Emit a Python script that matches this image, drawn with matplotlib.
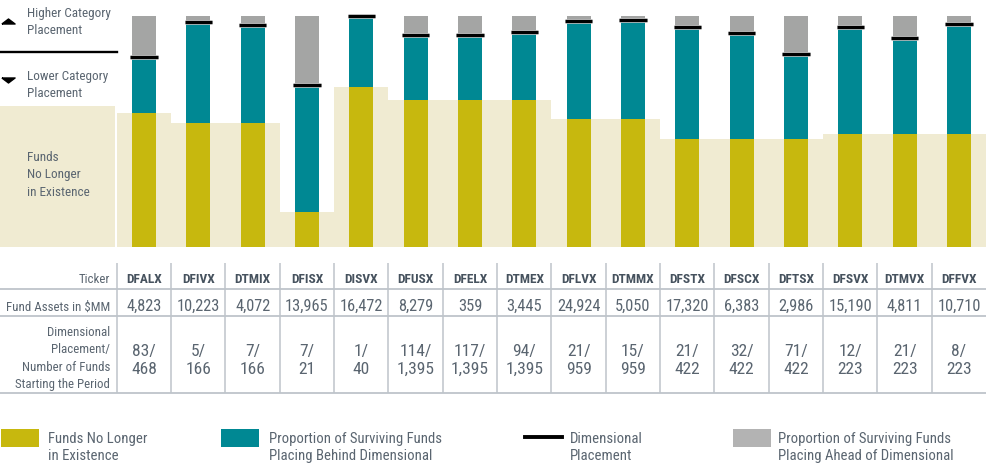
import numpy as np
import matplotlib
matplotlib.use("Agg")
import matplotlib.pyplot as plt
import matplotlib.patheffects as pe
from matplotlib import font_manager
from matplotlib.patches import Rectangle
from matplotlib.lines import Line2D
from matplotlib.transforms import blended_transform_factory

# data
tickers = ["DFALX", "DFIVX", "DTMIX", "DFISX", "DISVX", "DFUSX", "DFELX", "DTMEX",
           "DFLVX", "DTMMX", "DFSTX", "DFSCX", "DFTSX", "DFSVX", "DTMVX", "DFFVX"]
assets = ["4,823", "10,223", "4,072", "13,965", "16,472", "8,279", "359", "3,445",
          "24,924", "5,050", "17,320", "6,383", "2,986", "15,190", "4,811", "10,710"]
rank = [83, 5, 7, 7, 1, 114, 117, 94, 21, 15, 21, 32, 71, 12, 21, 8]
n_funds = [468, 166, 166, 21, 40, 1395, 1395, 1395, 959, 959, 422, 422, 422, 223, 223, 223]
# percent of funds starting the period
dead = [58.0, 53.7, 53.7, 15.2, 69.3, 63.6, 63.6, 63.6, 55.4, 55.4, 46.8, 46.8, 46.8, 48.9, 48.9, 48.9]
ahead = [17.7, 2.6, 3.9, 29.9, 0.0, 8.2, 8.2, 6.9, 2.2, 1.7, 4.8, 7.4, 16.5, 4.8, 9.5, 3.5]

# font: condensed if there is one
names = {f.name for f in font_manager.fontManager.ttflist}
FONT = "DejaVu Sans"
for cand in ["Roboto Condensed", "Liberation Sans Narrow", "Open Sans Condensed"]:
    if cand in names:
        FONT = cand
        break
plt.rcParams["font.family"] = [FONT, "DejaVu Sans"]
WT = 400

OLIVE = "#C7B80E"
TEAL = "#008893"
GRAY = "#A4A5A4"
BEIGE = "#F0EBD2"
TXT = "#5A6570"
GRID = "#BEC4CA"

W, H = 987, 466
fig = plt.figure(figsize=(W / 100, H / 100), dpi=100)


def fx(px):
    return px / W


def fy(py):
    return 1 - py / H


def ftext(px, py, s, **kw):
    kw.setdefault("color", TXT)
    kw.setdefault("fontsize", 9.5)
    kw.setdefault("va", "baseline")
    kw.setdefault("fontweight", WT)
    fig.text(fx(px), fy(py), s, **kw)


x = np.arange(len(tickers))
dead = np.array(dead)
ahead = np.array(ahead)
behind = 100 - dead - ahead

# ---- chart ----
step = 54.33
ax = fig.add_axes([0, fy(247), 1, 247 / H])
ax.set_xlim(-144 / step, (W - 144) / step)
ax.set_ylim(0, 247 / 2.31)
ax.axis("off")

ax.fill_between(np.r_[x - 0.5, x[-1] + 0.5], np.r_[dead, dead[-1]], step="post",
                color=BEIGE, lw=0, zorder=1)
bt = blended_transform_factory(ax.transAxes, ax.transData)
ax.add_patch(Rectangle((0, 0), 115.5 / W, (247 - 106) / 2.31, transform=bt,
                       color=BEIGE, lw=0, zorder=1))

bw = 0.442
ax.bar(x, dead, width=bw, color=OLIVE, zorder=2)
ax.bar(x, behind, bottom=dead, width=bw, color=TEAL, zorder=2)
ax.bar(x, ahead, bottom=dead + behind, width=bw, color=GRAY, zorder=2)
ax.hlines(100 - ahead, x - 0.25, x + 0.25, color="black", lw=2.3, zorder=3,
          path_effects=[pe.withStroke(linewidth=3.4, foreground="#c9c9c9")])

# left key
tri_up = [(-1, -0.38), (1, -0.38), (0, 0.38), (-1, -0.38)]
tri_dn = [(-1, 0.38), (1, 0.38), (0, -0.38), (-1, 0.38)]
fig.add_artist(Line2D([fx(8.5)], [fy(20.5)], marker=tri_up, markersize=9.5,
                      color="black", lw=0))
fig.add_artist(Line2D([fx(8.5)], [fy(79.5)], marker=tri_dn, markersize=9.5,
                      color="black", lw=0))
fig.add_artist(Line2D([0, fx(117)], [fy(52), fy(52)], color="black", lw=1.7))
ftext(27, 17, "Higher Category")
ftext(27, 34.5, "Placement")
ftext(27, 80, "Lower Category")
ftext(27, 97, "Placement")
ftext(27, 161, "Funds")
ftext(27, 178, "No Longer")
ftext(27, 196, "in Existence")

# ---- table ----
tab = fig.add_axes([0, fy(395), 1, (395 - 262) / H])
tab.set_xlim(ax.get_xlim())
tab.set_ylim(395, 262)
tab.axis("off")
tab.vlines(x[:-1] + 0.5, 263, 393, color=GRID, lw=1.1)
tab.vlines([-0.5], 263, 393, color=GRID, lw=1.1)
tab.hlines([289, 316, 393], *tab.get_xlim(), color=GRID, lw=1.3, clip_on=False)
tt = blended_transform_factory(tab.transAxes, tab.transData)
lab = dict(ha="right", va="baseline", color=TXT, fontsize=9.3, fontweight=WT,
           transform=tt)
tab.text(fx(110), 283, "Ticker", **lab)
tab.text(fx(110), 311, "Fund Assets in $MM", **lab)
for yb, s in zip([336, 353, 371, 388],
                 ["Dimensional", "Placement/", "Number of Funds", "Starting the Period"]):
    tab.text(fx(110), yb, s, **lab)
for i in x:
    tab.text(i, 283, tickers[i], ha="center", va="baseline", color="#46525E",
             fontsize=9.6, fontweight="bold")
    tab.text(i, 311, assets[i], ha="center", va="baseline", color=TXT, fontsize=11.8,
             fontweight=WT)
    tab.text(i, 356, f"{rank[i]}/", ha="center", va="baseline", color=TXT,
             fontsize=12.6, fontweight=WT)
    tab.text(i, 373.5, f"{n_funds[i]:,}", ha="center", va="baseline", color=TXT,
             fontsize=12.6, fontweight=WT)

# ---- legend ----
fig.add_artist(Rectangle((fx(1), fy(447)), fx(38), 18 / H, color=OLIVE, lw=0))
fig.add_artist(Rectangle((fx(221), fy(447)), fx(38), 18 / H, color=TEAL, lw=0))
fig.add_artist(Rectangle((fx(733), fy(447)), fx(38), 18 / H, color="#B3B3B3", lw=0))
fig.add_artist(Line2D([fx(525), fx(562)], [fy(436.5), fy(436.5)], color="black", lw=2.8))
leg = [(48, "Funds No Longer", "in Existence"),
       (269, "Proportion of Surviving Funds", "Placing Behind Dimensional"),
       (570, "Dimensional", "Placement"),
       (778, "Proportion of Surviving Funds", "Placing Ahead of Dimensional")]
for px, l1, l2 in leg:
    ftext(px, 443, l1, fontsize=10.6)
    ftext(px, 460, l2, fontsize=10.6)

fig.savefig("out.png", dpi=100)
